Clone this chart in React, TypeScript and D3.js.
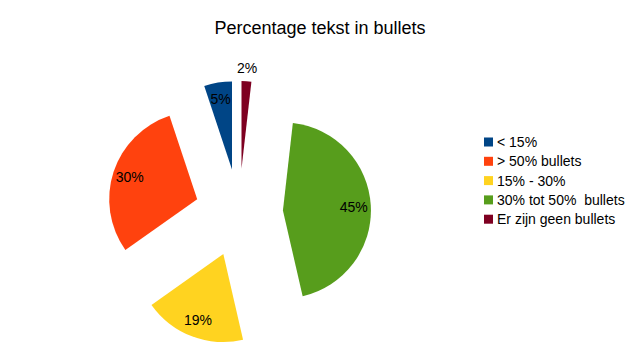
import React, {useEffect, useRef} from "react";
import * as d3 from "d3";

const categories = ["< 15%", "> 50% bullets", "15% - 30%", "30% tot 50%  bullets", "Er zijn geen bullets"]
const values = [5.1, 29.7, 18.8, 44.6, 1.8]
const colors = ["#004586", "#ff420e", "#ffd320", "#579d1c", "#7e0021"]
const title = "Percentage tekst in bullets"

const App = () => {

    const ref = useRef<SVGSVGElement>(null)

    useEffect(() => {
        const svg = d3.select(ref.current)
        svg.selectAll("*").remove()

        const width = 640, height = 360
        const radius = 88
        const explode = 44
        const cx = 239, cy = 213

        svg.append("text")
            .attr("x", 320)
            .attr("y", 34)
            .attr("text-anchor", "middle")
            .attr("font-size", 18)
            .attr("fill", "#000")
            .text(title)

        const data = categories.map((c, i) => ({name: c, value: values[i], color: colors[i]}))
        const total = d3.sum(values)

        // counter clockwise from the top, like LibreOffice
        const pie = d3.pie<any>()
            .sort(null)
            .value(d => d.value)
            .startAngle(0)
            .endAngle(-2 * Math.PI)

        const arc = d3.arc<any>()
            .innerRadius(0)
            .outerRadius(radius)

        const arcs = pie(data)

        const g = svg.append("g")
            .attr("transform", `translate(${cx}, ${cy})`)

        const slice = g.selectAll("g.slice")
            .data(arcs)
            .enter()
            .append("g")
            .attr("class", "slice")
            .attr("transform", d => {
                const mid = (d.startAngle + d.endAngle) / 2
                return `translate(${Math.sin(mid) * explode}, ${-Math.cos(mid) * explode})`
            })

        slice.append("path")
            .attr("d", arc)
            .attr("fill", d => d.data.color)

        slice.append("text")
            .attr("transform", d => {
                const mid = (d.startAngle + d.endAngle) / 2
                const r = d.data.value / total < 0.03 ? radius + 13 : 71
                return `translate(${Math.sin(mid) * r}, ${-Math.cos(mid) * r})`
            })
            .attr("text-anchor", "middle")
            .attr("dominant-baseline", "central")
            .attr("font-size", 14)
            .attr("fill", "#000")
            .text(d => `${Math.round(d.data.value / total * 100)}%`)

        const legend = svg.append("g")
            .attr("transform", "translate(484, 142)")

        const item = legend.selectAll("g")
            .data(data)
            .enter()
            .append("g")
            .attr("transform", (_, i) => `translate(0, ${i * 19.3})`)

        item.append("rect")
            .attr("x", 0)
            .attr("y", -4.5)
            .attr("width", 9)
            .attr("height", 9)
            .attr("fill", d => d.color)

        item.append("text")
            .attr("x", 13)
            .attr("y", 0)
            .attr("dominant-baseline", "central")
            .attr("font-size", 14)
            .attr("fill", "#000")
            .text(d => d.name)
            .style("white-space", "pre")
    }, [])

    return <div style={{position: "fixed", top: 0, left: 0}}>
        <svg ref={ref} width={640} height={360}
             style={{display: "block", background: "#fff", fontFamily: "'Liberation Sans', Arial, sans-serif"}}/>
    </div>
}

export default App
